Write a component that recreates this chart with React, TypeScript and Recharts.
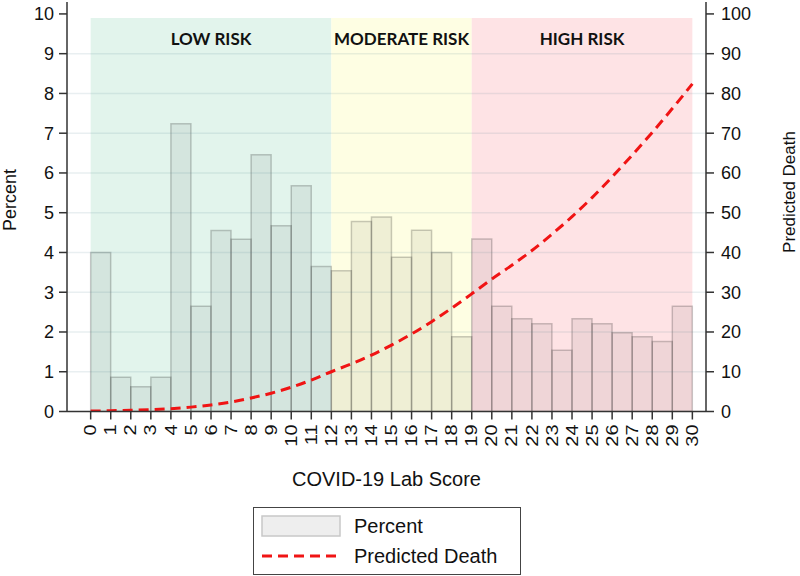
import React from "react";
import {
  ComposedChart,
  Bar,
  Line,
  XAxis,
  YAxis,
  ReferenceArea,
  ReferenceLine,
  Legend,
} from "recharts";

// lab score categories (tick labels on the x axis)
const scores = [
  0, 1, 2, 3, 4, 5, 6, 7, 8, 9, 10, 11, 12, 13, 14, 15, 16, 17, 18, 19, 20,
  21, 22, 23, 24, 25, 26, 27, 28, 29, 30,
];
// histogram: percent of patients in bin [k, k+1)
const percent = [
  4.0, 0.86, 0.62, 0.86, 7.24, 2.65, 4.55, 4.33, 6.46, 4.67, 5.68, 3.65, 3.54,
  4.78, 4.89, 3.88, 4.56, 4.0, 1.88, 4.34, 2.65, 2.33, 2.21, 1.54, 2.33, 2.21,
  1.98, 1.88, 1.76, 2.65,
];
// predicted death (%) at each score
const predictedDeath = [
  0.1, 0.2, 0.3, 0.45, 0.7, 1.1, 1.65, 2.4, 3.4, 4.6, 6.1, 7.9, 10.0, 12.0,
  14.2, 16.7, 19.5, 22.6, 26.0, 29.6, 33.3, 36.8, 40.5, 44.6, 49.0, 53.8, 59.0,
  64.5, 70.2, 76.2, 82.4,
];
const percentTicks = [0, 1, 2, 3, 4, 5, 6, 7, 8, 9, 10];
const deathTicks = [0, 10, 20, 30, 40, 50, 60, 70, 80, 90, 100];
const gridValues = [1, 2, 3, 4, 5, 6, 7, 8, 9];
const riskLabels = ["LOW RISK", "MODERATE RISK", "HIGH RISK"];
const riskEdges = [0, 12, 19, 30];

const RISK_COLORS = ["#e2f4ec", "#fefee3", "#fee3e5"];
const FONT = "'Liberation Sans', Arial, sans-serif";
const INK = "#111";
const RED = "#f01414";
const X_DOMAIN: [number, number] = [-1.18, 30.68];

const data = scores.map((s, i) => ({
  score: s,
  percent: i < percent.length ? percent[i] : null,
  predicted: predictedDeath[i],
}));

function ScoreTick({ x, y, payload }: any) {
  return (
    <g transform={`translate(${x},${y}) rotate(-90) scale(1,0.78)`}>
      <text
        x={0}
        y={0}
        dy="0.36em"
        textAnchor="end"
        fontSize={20}
        fill={INK}
        fontFamily={FONT}
      >
        {payload.value}
      </text>
    </g>
  );
}

function AxisTitle({ cx, cy, value, size }: any) {
  return (
    <text
      x={cx}
      y={cy}
      transform={`rotate(-90, ${cx}, ${cy})`}
      textAnchor="middle"
      dominantBaseline="central"
      fontSize={size}
      fill={INK}
      fontFamily={FONT}
    >
      {value}
    </text>
  );
}

function LegendBox() {
  return (
    <div
      style={{
        width: 268,
        height: 68,
        border: "1px solid #444",
        boxSizing: "border-box",
        background: "#fff",
      }}
    >
      <svg width={266} height={66}>
        <rect x={8} y={8} width={78} height={20} fill="#eeeeee" stroke="#c8c8c8" strokeWidth={1.5} />
        <text x={100} y={18} dominantBaseline="central" fontSize={20} fill={INK} fontFamily={FONT}>
          Percent
        </text>
        <line x1={8} x2={88} y1={48} y2={48} stroke={RED} strokeWidth={3} strokeDasharray="10 6" />
        <text x={100} y={48} dominantBaseline="central" fontSize={20} fill={INK} fontFamily={FONT}>
          Predicted Death
        </text>
      </svg>
    </div>
  );
}

export default function App() {
  return (
    <div style={{ position: "absolute", left: 0, top: 0, background: "#fff" }}>
      <ComposedChart
        width={800}
        height={576}
        data={data}
        margin={{ top: 2, right: 0, left: 0, bottom: 84.5 }}
      >
        <XAxis
          xAxisId="bin"
          dataKey="score"
          type="number"
          domain={[X_DOMAIN[0] - 0.5, X_DOMAIN[1] - 0.5]}
          allowDataOverflow
          ticks={scores}
          height={0}
          hide
        />
        <XAxis
          xAxisId="score"
          dataKey="score"
          type="number"
          domain={X_DOMAIN}
          allowDataOverflow
          ticks={scores}
          interval={0}
          height={80}
          tick={<ScoreTick />}
          tickSize={8}
          tickMargin={5}
          axisLine={{ stroke: "#333", strokeWidth: 1.5 }}
          tickLine={{ stroke: "#333", strokeWidth: 1.5 }}
          label={{
            value: "COVID-19 Lab Score",
            position: "insideBottom",
            offset: 6,
            fontSize: 20,
            fill: INK,
            fontFamily: FONT,
          }}
        />
        <YAxis
          yAxisId="left"
          type="number"
          domain={[0, 10.3]}
          allowDataOverflow
          ticks={percentTicks}
          interval={0}
          width={67}
          tickSize={8}
          tickMargin={5}
          tick={{ fontSize: 18, fill: INK, fontFamily: FONT }}
          axisLine={{ stroke: "#333", strokeWidth: 1.5 }}
          tickLine={{ stroke: "#333", strokeWidth: 1.5 }}
          label={<AxisTitle cx={10} cy={200} value="Percent" size={18} />}
        />
        <YAxis
          yAxisId="right"
          orientation="right"
          type="number"
          domain={[0, 103]}
          allowDataOverflow
          ticks={deathTicks}
          interval={0}
          width={94}
          tickSize={8}
          tickMargin={7}
          tick={{ fontSize: 18, fill: INK, fontFamily: FONT }}
          axisLine={{ stroke: "#333", strokeWidth: 1.5 }}
          tickLine={{ stroke: "#333", strokeWidth: 1.5 }}
          label={<AxisTitle cx={789} cy={192} value="Predicted Death" size={17} />}
        />
        {riskLabels.map((label, i) => (
          <ReferenceArea
            key={label}
            xAxisId="score"
            yAxisId="left"
            x1={riskEdges[i]}
            x2={riskEdges[i + 1]}
            y1={0}
            y2={9.9}
            fill={RISK_COLORS[i]}
            fillOpacity={1}
            stroke="none"
            label={{
              value: label,
              position: "insideTop",
              offset: 15,
              fontSize: 17,
              fontWeight: 700,
              fill: INK,
              fontFamily: "Lato, 'Open Sans', sans-serif",
            }}
          />
        ))}
        {gridValues.map((v) => (
          <ReferenceLine
            key={v}
            xAxisId="score"
            yAxisId="left"
            y={v}
            stroke="#4a7f8f"
            strokeOpacity={0.12}
            strokeWidth={1.5}
          />
        ))}
        <Bar
          xAxisId="bin"
          yAxisId="left"
          dataKey="percent"
          barSize={20}
          fill="#000"
          fillOpacity={0.06}
          stroke="#000"
          strokeOpacity={0.2}
          strokeWidth={1.5}
          isAnimationActive={false}
        />
        <Line
          xAxisId="score"
          yAxisId="right"
          dataKey="predicted"
          type="monotone"
          stroke={RED}
          strokeWidth={3}
          strokeDasharray="10 6"
          dot={false}
          isAnimationActive={false}
        />
        <Legend
          layout="horizontal"
          verticalAlign="middle"
          align="center"
          wrapperStyle={{ left: 253, top: 507, width: 268, height: 68 }}
          content={<LegendBox />}
        />
      </ComposedChart>
    </div>
  );
}
